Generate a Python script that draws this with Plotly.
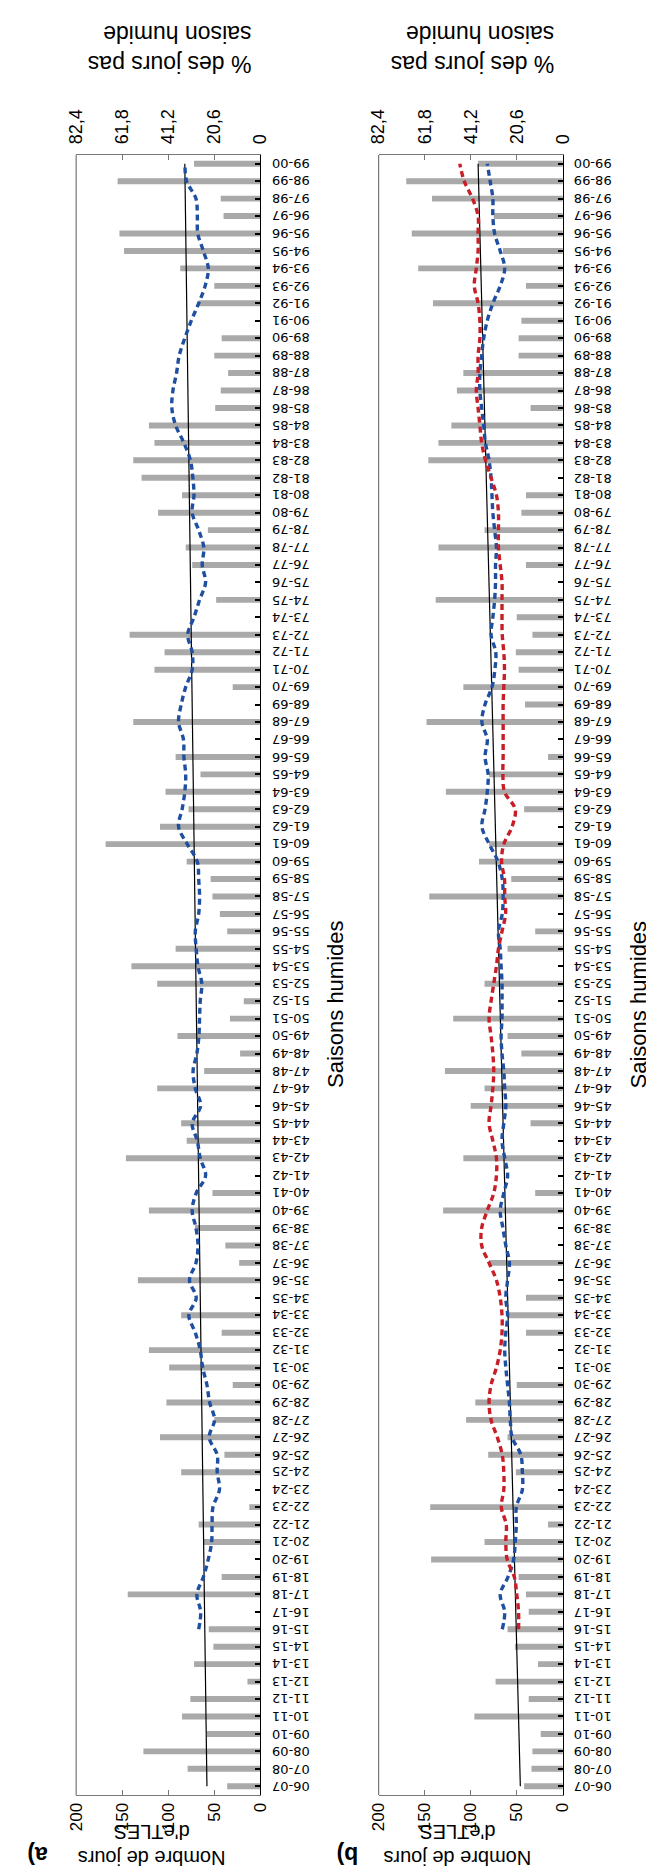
import plotly.graph_objects as go

seasons = ["06-07","07-08","08-09","09-10","10-11","11-12","12-13","13-14","14-15","15-16",
           "16-17","17-18","18-19","19-20","20-21","21-22","22-23","23-24","24-25","25-26",
           "26-27","27-28","28-29","29-30","30-31","31-32","32-33","33-34","34-35","35-36",
           "36-37","37-38","38-39","39-40","40-41","41-42","42-43","43-44","44-45","45-46",
           "46-47","47-48","48-49","49-50","50-51","51-52","52-53","53-54","54-55","55-56",
           "56-57","57-58","58-59","59-60","60-61","61-62","62-63","63-64","64-65","65-66",
           "66-67","67-68","68-69","69-70","70-71","71-72","72-73","73-74","74-75","75-76",
           "76-77","77-78","78-79","79-80","80-81","81-82","82-83","83-84","84-85","85-86",
           "86-87","87-88","88-89","89-90","90-91","91-92","92-93","93-94","94-95","95-96",
           "96-97","97-98","98-99","99-00"]

# (a) number of eTLES days per wet season
days_a = [36, 79, 127, 58, 85, 76, 14, 72, 51, 56,
          0, 144, 42, 0, 62, 67, 12, 0, 86, 39,
          109, 50, 102, 30, 99, 121, 42, 86, 0, 133,
          23, 38, 71, 121, 52, 0, 146, 80, 86, 0,
          112, 61, 22, 90, 33, 18, 112, 140, 92, 36,
          44, 52, 54, 80, 168, 109, 78, 103, 65, 92,
          0, 138, 0, 30, 115, 104, 142, 0, 48, 0,
          74, 81, 57, 111, 85, 129, 138, 115, 121, 49,
          43, 35, 50, 42, 0, 67, 50, 87, 148, 153,
          40, 43, 155, 72]

# (b) number of eTLES days per wet season
days_b = [42, 34, 33, 24, 96, 37, 73, 27, 52, 60,
          37, 40, 48, 143, 85, 16, 144, 0, 51, 81,
          60, 105, 95, 50, 0, 0, 40, 60, 40, 0,
          80, 0, 0, 130, 30, 0, 108, 0, 35, 100,
          85, 128, 45, 60, 119, 0, 85, 0, 60, 30,
          0, 145, 56, 91, 80, 0, 42, 127, 80, 16,
          0, 148, 41, 108, 48, 51, 33, 50, 138, 0,
          40, 135, 85, 45, 40, 0, 146, 135, 121, 35,
          115, 108, 48, 48, 45, 141, 40, 157, 65, 164,
          75, 142, 170, 92]

# % of days not in wet season (smoothed), seasons 15-16 .. 99-00
pct_a = [27.6, 26.7, 28.4, 25.5, 23.3, 21.8, 21.6, 21.2, 18.3, 19.3,
         19.3, 22.9, 20.5, 22.7, 23.9, 25.8, 26.9, 29.1, 32.0, 28.7,
         31.7, 28.8, 27.9, 28.8, 30.5, 28.7, 24.5, 26.9, 28.2, 30.5,
         26.7, 29.1, 30.1, 28.4, 27.5, 27.2, 26.9, 26.2, 27.9, 28.7,
         29.1, 27.6, 27.2, 27.6, 28.2, 32.7, 36.6, 35.0, 33.8, 33.4,
         34.2, 34.4, 36.6, 35.4, 33.4, 30.5, 30.5, 32.5, 29.7, 27.2,
         24.5, 26.0, 25.3, 27.6, 30.5, 29.7, 30.2, 31.3, 34.2, 37.9,
         39.6, 39.1, 37.5, 36.3, 33.8, 30.9, 27.6, 24.7, 23.3, 25.5,
         28.0, 28.2, 28.8, 33.0, 33.7]

pct_b_blue = [27.1, 26.0, 28.0, 24.5, 22.0, 21.3, 20.8, 20.8, 18.1, 18.1,
              18.8, 22.7, 23.5, 23.9, 24.7, 25.5, 26.0, 25.5, 24.7, 25.5,
              24.7, 23.9, 25.5, 26.8, 28.0, 26.4, 24.7, 26.0, 27.2, 26.4,
              25.5, 26.0, 26.4, 27.2, 27.6, 27.2, 27.2, 27.2, 27.6, 28.0,
              28.8, 27.1, 26.7, 27.1, 29.0, 32.9, 36.2, 34.8, 33.8, 33.4,
              34.8, 33.8, 36.2, 34.8, 31.7, 30.4, 30.0, 32.1, 31.3, 30.5,
              30.1, 30.1, 29.7, 30.5, 31.3, 31.7, 32.1, 33.0, 34.6, 35.4,
              36.3, 37.1, 37.1, 36.3, 35.4, 33.8, 31.3, 28.0, 26.0, 28.0,
              30.5, 31.3, 31.3, 32.5, 33.8]

pct_b_red = [19.8, 19.8, 20.6, 21.7, 24.9, 25.5, 25.3, 27.5, 26.4, 26.4,
             27.1, 29.3, 32.1, 33.0, 32.1, 29.7, 28.0, 27.2, 27.2, 28.0,
             29.7, 33.0, 36.3, 36.3, 33.8, 30.9, 29.7, 29.7, 31.3, 33.0,
             32.1, 31.3, 30.9, 31.3, 32.1, 33.0, 32.1, 30.9, 29.7, 28.8,
             27.2, 25.6, 26.0, 26.1, 27.4, 26.4, 22.7, 21.3, 26.1, 26.8,
             26.7, 26.7, 26.7, 26.7, 26.4, 26.1, 26.4, 27.1, 27.2, 27.2,
             27.2, 28.0, 28.8, 28.8, 28.8, 29.7, 32.1, 34.6, 36.3, 37.1,
             37.9, 38.7, 37.9, 37.9, 37.1, 37.1, 37.9, 39.6, 38.7, 37.9,
             37.9, 37.9, 40.4, 44.1, 46.1]

line_seasons = seasons[9:]
trend_a = [23.9, 33.8]
trend_b = [19.0, 37.9]
trend_seasons = [seasons[0], seasons[-1]]

pct_ticks = [0, 20.6, 41.2, 61.8, 82.4]
pct_ticktext = ["0", "20,6", "41,2", "61,8", "82,4"]
day_ticks = [0, 50, 100, 150, 200]

GRAY = "#A9A9A9"
BLUE = "#1F4FA0"
RED = "#C81E28"
FONT = "Liberation Sans, Arial, sans-serif"

W, H = 654, 1867
def px(x):
    return x / W
def py(y):
    return (H - y) / H

dom_a = [px(60), px(250)]
dom_b = [px(372), px(562)]
dom_y = [py(1787), py(147)]

fig = go.Figure()
for xa, xb, ya, days, lines in [
    ("x", "x2", "y", days_a, [(pct_a, BLUE)]),
    ("x3", "x4", "y2", days_b, [(pct_b_blue, BLUE), (pct_b_red, RED)]),
]:
    fig.add_trace(go.Bar(y=seasons, x=days, orientation="h", xaxis=xa, yaxis=ya,
                         marker_color=GRAY, marker_line_width=0, width=0.34,
                         showlegend=False))
    trend = trend_a if ya == "y" else trend_b
    fig.add_trace(go.Scatter(y=trend_seasons, x=trend, xaxis=xb, yaxis=ya, mode="lines",
                             line=dict(color="black", width=1.2), showlegend=False))
    for vals, col in lines:
        fig.add_trace(go.Scatter(y=line_seasons, x=vals, xaxis=xb, yaxis=ya, mode="lines",
                                 line=dict(color=col, width=3.4, dash="6px,4px", shape="spline",
                                           smoothing=1.0),
                                 showlegend=False))

def day_axis(domain, anchor):
    return dict(domain=domain, anchor=anchor, range=[200, 0], tickvals=day_ticks,
                ticks="inside", ticklen=5, tickcolor="#777", showline=True, linecolor="#777",
                linewidth=1.2, tickangle=-90, showgrid=False, zeroline=False,
                ticklabeloverflow="allow",
                tickfont=dict(family=FONT, size=17, color="black"), side="bottom")

def pct_axis(overlay, anchor):
    return dict(overlaying=overlay, anchor=anchor, range=[82.4, 0], tickvals=pct_ticks,
                ticktext=pct_ticktext, side="top", ticks="inside", ticklen=5, tickcolor="#777",
                showline=True, linecolor="#777", linewidth=1.2, tickangle=-90, showgrid=False,
                ticklabeloverflow="allow", ticklabelstandoff=6,
                zeroline=False, tickfont=dict(family=FONT, size=18, color="black"))

def cat_axis(anchor):
    return dict(domain=dom_y, anchor=anchor, type="category", categoryorder="array",
                categoryarray=seasons, range=[-0.5, len(seasons) - 0.5], side="right",
                ticks="inside", ticklen=5, tickcolor="black", tickwidth=1.5, showline=True,
                linecolor="black", linewidth=1.2, showgrid=False, showticklabels=False)

fig.update_layout(
    width=W, height=H, margin=dict(l=0, r=0, t=0, b=0),
    plot_bgcolor="white", paper_bgcolor="white", bargap=0.66,
    xaxis=day_axis(dom_a, "y"), xaxis2=pct_axis("x", "y"),
    xaxis3=day_axis(dom_b, "y2"), xaxis4=pct_axis("x3", "y2"),
    yaxis=cat_axis("x"), yaxis2=cat_axis("x3"),
)

# left frame edges
for xr, yr in [("x domain", "y domain"), ("x3 domain", "y2 domain")]:
    fig.add_shape(type="line", xref=xr, yref=yr, x0=0, x1=0, y0=0, y1=1,
                  line=dict(color="#777", width=1.2))

ann = []
# upside-down season labels placed on the category axis scale
for xr, yr in [("x domain", "y"), ("x3 domain", "y2")]:
    for s in seasons:
        ann.append(dict(text=s, x=1, xref=xr, y=s, yref=yr, xanchor="left", yanchor="middle",
                        xshift=9, textangle=180, showarrow=False,
                        font=dict(family="DejaVu Sans", size=13, color="black")))

def add_text(text, x, y, angle, size=22, bold=False, align="center"):
    if bold:
        text = "<b>" + text + "</b>"
    ann.append(dict(text=text, x=px(x), y=py(y), xref="paper", yref="paper",
                    showarrow=False, textangle=angle, align=align,
                    font=dict(family=FONT, size=size, color="black"),
                    xanchor="center", yanchor="middle"))

for cx, lab, lx in [(138, "a)", 20), (453, "b)", 340)]:
    add_text("Nombre de jours<br>d'eTLES", cx, 1837, 180, size=20)
    add_text(lab, lx, 1847, 180, size=23, bold=True)
for cx in [156, 469]:
    add_text("% des jours pas<br>saison humide", cx, 41, 180, size=23, align="left")
for cx in [327, 640]:
    add_text("Saisons humides", cx, 996, -90, size=22)

fig.update_layout(annotations=ann)
fig.write_html("out.html")
